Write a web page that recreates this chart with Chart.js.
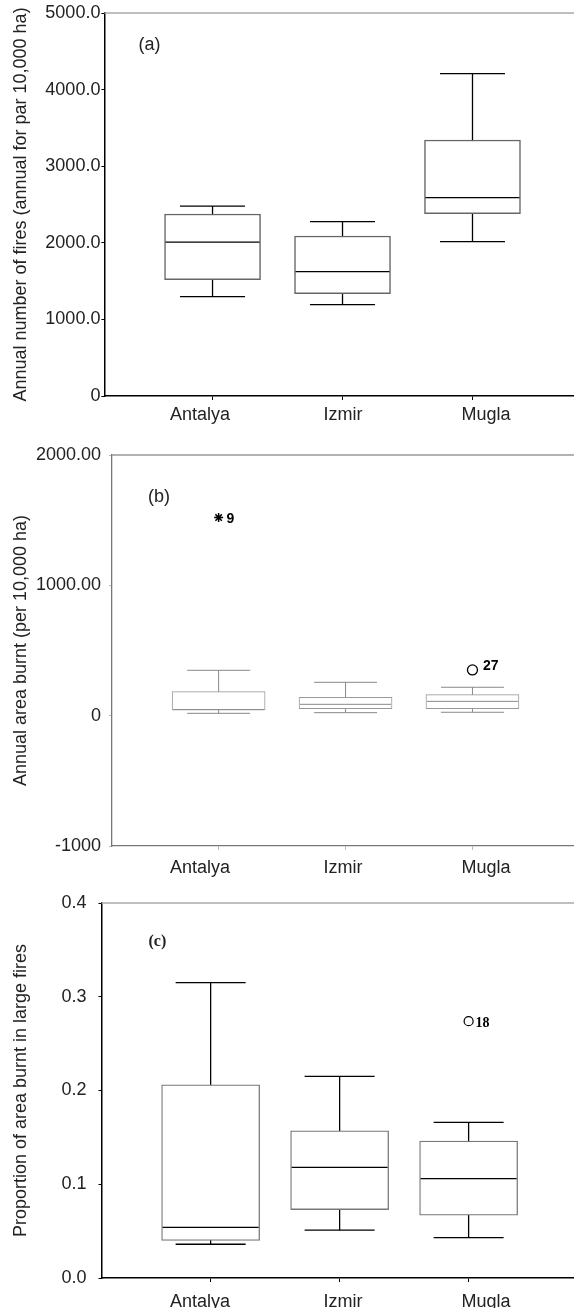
<!DOCTYPE html>
<html>
<head>
<meta charset="utf-8">
<script src="https://cdn.jsdelivr.net/npm/chart.js@4/dist/chart.umd.min.js"></script>
<style>
  html, body { margin: 0; padding: 0; background: #fff; }
  #wrap { position: relative; width: 574px; height: 1308px; overflow: hidden; }
  canvas { position: absolute; left: 0; }
</style>
</head>
<body>
<div id="wrap">
  <canvas id="chartA" width="574" height="430" style="top:0px"></canvas>
  <canvas id="chartB" width="574" height="448" style="top:430px"></canvas>
  <canvas id="chartC" width="574" height="430" style="top:878px"></canvas>
</div>
<script>
// Categorias
const regioes = ["Antalya", "Izmir", "Mugla"];

// (a) número anual de incêndios
const aMin = [1298, 1193, 2016];
const aQ1 = [1520, 1337, 2381];
const aMed = [2010, 1624, 2590];
const aQ3 = [2376, 2089, 3342];
const aMax = [2480, 2277, 4209];
const aTicks = ["0", "1000.0", "2000.0", "3000.0", "4000.0", "5000.0"];

// (b) área ardida anual
const bMin = [18, 23, 26];
const bQ1 = [44, 54, 54];
const bMed = [46, 87, 110];
const bQ3 = [184, 141, 161];
const bMax = [348, 256, 218];
const bExtremoCat = [1];
const bExtremoVal = [1520];
const bExtremoRot = ["9"];
const bOutlierCat = [3];
const bOutlierVal = [351];
const bOutlierRot = ["27"];
const bTicks = ["-1000", "0", "1000.00", "2000.00"];

// (c) proporção em grandes incêndios
const cMin = [0.036, 0.051, 0.043];
const cQ1 = [0.040, 0.073, 0.067];
const cMed = [0.054, 0.118, 0.106];
const cQ3 = [0.206, 0.157, 0.146];
const cMax = [0.315, 0.215, 0.166];
const cOutlierCat = [3];
const cOutlierVal = [0.274];
const cOutlierRot = ["18"];
const cTicks = ["0.0", "0.1", "0.2", "0.3", "0.4"];

const FONTE = "'Liberation Sans', Arial, sans-serif";
const SERIFA = "'Liberation Serif', 'Times New Roman', serif";

// Texto extra: rótulo do painel, linha superior e rótulos dos outliers
const extrasPlugin = {
    id: "extras",
    afterDatasetsDraw(chart, args, opts) {
        const ctx = chart.ctx;
        const area = chart.chartArea;
        ctx.save();
        ctx.strokeStyle = opts.topoCor;
        ctx.lineWidth = opts.topoLargura;
        ctx.beginPath();
        ctx.moveTo(area.left, area.top);
        ctx.lineTo(area.right, area.top);
        ctx.stroke();

        ctx.fillStyle = "#222";
        ctx.font = opts.painelFonte;
        ctx.textAlign = "left";
        ctx.textBaseline = "middle";
        ctx.fillText(opts.painel, area.left + opts.dx, area.top + opts.dy);

        chart.data.datasets.forEach((ds, di) => {
            if (!ds.rotulos) return;
            const meta = chart.getDatasetMeta(di);
            ctx.font = ds.rotuloFonte;
            ctx.fillStyle = "#000";
            meta.data.forEach((pt, i) => {
                ctx.fillText(ds.rotulos[i], pt.x + ds.rotuloDx, pt.y + ds.rotuloDy);
            });
        });
        ctx.restore();
    }
};

function montarPainel(id, p) {
    const xs = regioes.map((_, i) => i + 1);
    const caixas = xs.map((x, i) => ({ x: x, y: [p.q1[i], p.q3[i]] }));
    const hastes = [];
    xs.forEach((x, i) => {
        hastes.push({ x: x, y: p.min[i] }, { x: x, y: p.max[i] }, { x: x + 0.5, y: null });
    });
    const capas = [];
    xs.forEach((x, i) => {
        capas.push({ x: x, y: p.min[i] }, { x: x, y: p.max[i] });
    });
    const medianas = xs.map((x, i) => ({ x: x, y: p.med[i] }));

    const datasets = [
        {
            type: "bar",
            data: caixas,
            backgroundColor: "#ffffff",
            borderColor: p.caixaCor,
            borderWidth: p.caixaLargura,
            borderSkipped: false,
            barThickness: p.caixaW,
            grouped: false,
            order: 2
        },
        {
            type: "scatter",
            data: hastes,
            showLine: true,
            spanGaps: false,
            borderColor: p.bigodeCor,
            borderWidth: p.bigodeLargura,
            pointRadius: 0,
            order: 3
        },
        {
            type: "scatter",
            data: capas,
            pointStyle: "line",
            pointRadius: p.capaW / 2,
            pointBorderColor: p.bigodeCor,
            pointBorderWidth: p.bigodeLargura,
            order: 1
        },
        {
            type: "scatter",
            data: medianas,
            pointStyle: "line",
            pointRadius: p.caixaW / 2 - 1,
            pointBorderColor: p.medianaCor,
            pointBorderWidth: p.bigodeLargura,
            order: 0
        }
    ];

    p.pontos.forEach(pt => {
        datasets.push({
            type: "scatter",
            data: pt.cat.map((c, i) => ({ x: c, y: pt.val[i] })),
            pointStyle: pt.estilo,
            pointRadius: pt.raio,
            pointBorderColor: "#000",
            pointBackgroundColor: "rgba(0,0,0,0)",
            pointBorderWidth: pt.espessura,
            rotulos: pt.rot,
            rotuloFonte: pt.fonte,
            rotuloDx: pt.dx,
            rotuloDy: pt.dy,
            order: 0
        });
    });

    return new Chart(document.getElementById(id), {
        type: "scatter",
        data: { datasets: datasets },
        plugins: [extrasPlugin],
        options: {
            responsive: false,
            animation: false,
            events: [],
            layout: { autoPadding: false, padding: { top: p.padTop, right: 0, bottom: 0, left: 0 } },
            plugins: {
                legend: { display: false },
                tooltip: { enabled: false },
                extras: {
                    painel: p.painel,
                    painelFonte: p.painelFonte,
                    dx: p.painelDx,
                    dy: p.painelDy,
                    topoCor: p.topoCor,
                    topoLargura: 1.5
                }
            },
            scales: {
                x: {
                    type: "linear",
                    position: "bottom",
                    min: p.xMin,
                    max: p.xMax,
                    offset: false,
                    afterBuildTicks: s => { s.ticks = xs.map(v => ({ value: v })); },
                    ticks: { display: false },
                    grid: { display: true, offset: false, drawOnChartArea: false, drawTicks: true, tickLength: 4, color: p.eixoTickCor, lineWidth: 1 },
                    border: { display: true, color: p.eixoCor, width: p.eixoLargura },
                    afterFit: s => { s.height = 4; }
                },
                xl: {
                    type: "linear",
                    position: "bottom",
                    min: p.lMin,
                    max: p.lMax,
                    afterBuildTicks: s => { s.ticks = xs.map(v => ({ value: v })); },
                    ticks: {
                        autoSkip: false,
                        maxRotation: 0,
                        padding: p.rotPad,
                        color: "#222",
                        font: { family: FONTE, size: 18 },
                        callback: (v, i) => regioes[i]
                    },
                    grid: { display: false },
                    border: { display: false },
                    afterFit: s => { s.height = p.rotAltura; }
                },
                y: {
                    min: p.yMin,
                    max: p.yMax,
                    ticks: {
                        stepSize: p.passo,
                        padding: p.tickPad,
                        color: "#222",
                        font: { family: FONTE, size: 18 },
                        callback: (v, i) => p.tickRot[i]
                    },
                    grid: { display: true, drawOnChartArea: false, drawTicks: true, tickLength: 3, color: p.eixoTickCor },
                    border: { display: true, color: p.eixoCor, width: p.eixoLargura },
                    title: {
                        display: true,
                        text: p.titulo,
                        color: "#222",
                        font: { family: FONTE, size: 18 },
                        padding: { top: 10, bottom: 0 }
                    },
                    afterFit: s => { s.width = p.eixoEsq; }
                }
            }
        }
    });
}

montarPainel("chartA", {
    min: aMin, q1: aQ1, med: aMed, q3: aQ3, max: aMax,
    yMin: 0, yMax: 5000, passo: 1000, tickRot: aTicks, tickPad: 1,
    titulo: "Annual number of fires (annual for par 10,000 ha)",
    padTop: 13, eixoEsq: 104.4, xMin: 0.168, xMax: 3.781, lMin: 0.331, lMax: 3.615,
    rotPad: -4, rotAltura: 30,
    caixaW: 96, capaW: 65, caixaCor: "#666", caixaLargura: 1.5,
    bigodeCor: "#000", bigodeLargura: 1.3, medianaCor: "#000",
    eixoCor: "#000", eixoTickCor: "#000", eixoLargura: 1.5, topoCor: "#aaa",
    painel: "(a)", painelFonte: "18px " + FONTE, painelDx: 34, painelDy: 32,
    pontos: []
});

montarPainel("chartB", {
    min: bMin, q1: bQ1, med: bMed, q3: bQ3, max: bMax,
    yMin: -1000, yMax: 2000, passo: 1000, tickRot: bTicks, tickPad: 8,
    titulo: "Annual area burnt (per 10,000 ha)",
    padTop: 25, eixoEsq: 112, xMin: 0.16, xMax: 3.8, lMin: 0.385, lMax: 3.615,
    rotPad: -0.5, rotAltura: 28,
    caixaW: 93, capaW: 63, caixaCor: "#999", caixaLargura: 1,
    bigodeCor: "#888", bigodeLargura: 1, medianaCor: "#888",
    eixoCor: "#777", eixoTickCor: "#bbb", eixoLargura: 1.3, topoCor: "#999",
    painel: "(b)", painelFonte: "18px " + FONTE, painelDx: 36, painelDy: 42,
    pontos: [
        { cat: bExtremoCat, val: bExtremoVal, rot: bExtremoRot, estilo: "star", raio: 4.5, espessura: 1.5,
          fonte: "bold 14px " + FONTE, dx: 8, dy: 2 },
        { cat: bOutlierCat, val: bOutlierVal, rot: bOutlierRot, estilo: "circle", raio: 5, espessura: 1.3,
          fonte: "bold 14px " + FONTE, dx: 10.5, dy: -4 }
    ]
});

montarPainel("chartC", {
    min: cMin, q1: cQ1, med: cMed, q3: cQ3, max: cMax,
    yMin: 0, yMax: 0.4, passo: 0.1, tickRot: cTicks, tickPad: 12,
    titulo: "Proportion of area burnt in large fires",
    padTop: 25, eixoEsq: 101.5, xMin: 0.154, xMax: 3.817, lMin: 0.311, lMax: 3.615,
    rotPad: 1, rotAltura: 26,
    caixaW: 98, capaW: 70, caixaCor: "#777", caixaLargura: 1.3,
    bigodeCor: "#000", bigodeLargura: 1.3, medianaCor: "#000",
    eixoCor: "#000", eixoTickCor: "#000", eixoLargura: 1.5, topoCor: "#aaa",
    painel: "(c)", painelFonte: "bold 16px " + SERIFA, painelDx: 47, painelDy: 39,
    pontos: [
        { cat: cOutlierCat, val: cOutlierVal, rot: cOutlierRot, estilo: "circle", raio: 4.5, espessura: 1.2,
          fonte: "bold 14px " + SERIFA, dx: 7, dy: 2 }
    ]
});
</script>
</body>
</html>
